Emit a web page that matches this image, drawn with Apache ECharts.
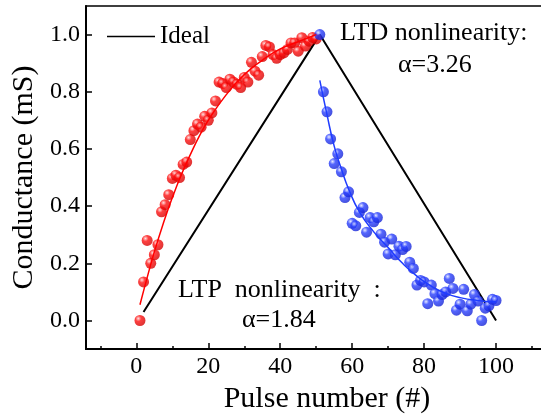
<!DOCTYPE html>
<html>
<head>
<meta charset="utf-8">
<script src="https://cdn.jsdelivr.net/npm/echarts@6/dist/echarts.min.js"></script>
<style>
  html, body { margin: 0; padding: 0; background: #fff; overflow: hidden; }
  /* the plot frame runs past the right edge of the window, as in the figure */
  #chart { width: 600px; height: 419px; }
</style>
</head>
<body>
<div id="chart"></div>
<script>
  // LTP: pulses 1..50, LTD: pulses 51..100 (conductance in mS)
  var ltpValues = [0.00, 0.135, 0.28, 0.20, 0.23, 0.265, 0.38, 0.405, 0.44, 0.497,
                   0.508, 0.50, 0.546, 0.554, 0.633, 0.664, 0.687, 0.676, 0.714, 0.70,
                   0.726, 0.768, 0.834, 0.829, 0.815, 0.844, 0.834, 0.826, 0.815, 0.85,
                   0.834, 0.903, 0.872, 0.858, 0.923, 0.962, 0.957, 0.93, 0.917, 0.93,
                   0.936, 0.948, 0.971, 0.971, 0.942, 0.989, 0.96, 0.977, 0.99, 0.985];
  var ltdValues = [1.00, 0.80, 0.73, 0.635, 0.549, 0.583, 0.52, 0.43, 0.45, 0.34,
                   0.331, 0.378, 0.395, 0.309, 0.36, 0.345, 0.36, 0.302, 0.274, 0.233,
                   0.285, 0.23, 0.26, 0.248, 0.259, 0.204, 0.182, 0.124, 0.14, 0.135,
                   0.059, 0.124, 0.094, 0.068, 0.091, 0.10, 0.147, 0.112, 0.036, 0.057,
                   0.109, 0.034, 0.057, 0.091, 0.068, 0.0, 0.043, 0.051, 0.074, 0.07];

  // fitted curves
  var ltpFitX = [1, 3, 5, 7.5, 10, 12.5, 15, 17.5, 20, 25, 30, 35, 40, 45, 50];
  var ltpFitY = [0.055, 0.15, 0.24, 0.34, 0.43, 0.51, 0.58, 0.645, 0.70, 0.79, 0.86, 0.91, 0.95, 0.975, 1.0];
  var ltdFitX = [51, 53, 55, 57, 59, 62, 66, 70, 74, 78, 82, 86, 90, 95, 100];
  var ltdFitY = [0.84, 0.72, 0.61, 0.53, 0.46, 0.38, 0.31, 0.255, 0.20, 0.155, 0.12, 0.095, 0.08, 0.07, 0.065];

  var idealX = [2, 51, 100];
  var idealY = [0.03, 1.0, 0.0];

  var xLabels = [0, 20, 40, 60, 80, 100, 120];
  var xMinor = [-10, 10, 30, 50, 70, 90, 110];
  var yLabels = [0.0, 0.2, 0.4, 0.6, 0.8, 1.0];

  var FONT = "'Times New Roman', 'Liberation Serif', serif";

  function pairs(xs, ys) {
    return xs.map(function (x, i) { return [x, ys[i]]; });
  }
  function sphere(c0, c1, c2) {
    return {
      type: 'radial', x: 0.35, y: 0.32, r: 0.75,
      colorStops: [{ offset: 0, color: c0 }, { offset: 0.35, color: c1 }, { offset: 1, color: c2 }]
    };
  }

  var ltpData = ltpValues.map(function (v, i) { return [i + 1, v]; });
  var ltdData = ltdValues.map(function (v, i) { return [i + 51, v]; });

  var chart = echarts.init(document.getElementById('chart'));
  chart.setOption({
    animation: false,
    textStyle: { fontFamily: FONT },
    grid: {
      left: 86, top: 6, right: 32, bottom: 67,
      show: true, borderColor: '#000', borderWidth: 1.5
    },
    legend: {
      left: 102, top: 19,
      data: [{ name: 'Ideal', icon: 'rect' }],
      itemWidth: 48, itemHeight: 1.6, itemGap: 5,
      textStyle: { fontFamily: FONT, fontSize: 25, color: '#000' }
    },
    xAxis: [{
      type: 'value', min: -14, max: 120,
      name: 'Pulse number (#)', nameLocation: 'middle', nameGap: 24,
      nameTextStyle: { fontFamily: FONT, fontSize: 30, color: '#000' },
      axisLine: { onZero: false, lineStyle: { color: '#000', width: 2 } },
      axisTick: { inside: true, length: 6, customValues: xLabels, lineStyle: { color: '#000', width: 1.5 } },
      axisLabel: { customValues: xLabels, margin: 6, fontFamily: FONT, fontSize: 24, color: '#000' },
      splitLine: { show: false }
    }, {
      type: 'value', min: -14, max: 120, position: 'bottom',
      axisLine: { show: false, onZero: false },
      axisTick: { inside: true, length: 3, customValues: xMinor, lineStyle: { color: '#000', width: 1.5 } },
      axisLabel: { show: false },
      splitLine: { show: false }
    }],
    yAxis: {
      type: 'value', min: -0.1, max: 1.1,
      name: 'Conductance (mS)', nameLocation: 'middle', nameGap: 43,
      nameTextStyle: { fontFamily: FONT, fontSize: 30, color: '#000' },
      axisLine: { onZero: false, lineStyle: { color: '#000', width: 2 } },
      axisTick: { inside: true, length: 6, customValues: yLabels, lineStyle: { color: '#000', width: 1.5 } },
      axisLabel: {
        customValues: yLabels, margin: 6, fontFamily: FONT, fontSize: 24, color: '#000',
        formatter: function (v) { return v.toFixed(1); }
      },
      splitLine: { show: false }
    },
    series: [{
      name: 'Ideal', type: 'line', data: pairs(idealX, idealY),
      symbol: 'none', lineStyle: { color: '#000', width: 2 }, itemStyle: { color: '#000' }, z: 2
    }, {
      name: 'LTP', type: 'scatter', data: ltpData, symbolSize: 11,
      itemStyle: { color: sphere('#ffd8d8', '#ff1010', '#d00000') }, z: 3
    }, {
      name: 'LTD', type: 'scatter', data: ltdData, symbolSize: 11,
      itemStyle: { color: sphere('#dfe3ff', '#2a40ff', '#1422d0') }, z: 3
    }, {
      name: 'LTP fit', type: 'line', data: pairs(ltpFitX, ltpFitY), smooth: true,
      symbol: 'none', lineStyle: { color: '#ff0000', width: 1.5 }, z: 4
    }, {
      name: 'LTD fit', type: 'line', data: pairs(ltdFitX, ltdFitY), smooth: true,
      symbol: 'none', lineStyle: { color: '#1f3cff', width: 1.5 }, z: 4
    }],
    graphic: [
      { type: 'text', left: 340, top: 20, style: { text: 'LTD nonlinearity:', font: '26px ' + FONT, fill: '#000' } },
      { type: 'text', left: 398, top: 52, style: { text: 'α=3.26', font: '26px ' + FONT, fill: '#000' } },
      { type: 'text', left: 178, top: 277, style: { text: 'LTP  nonlinearity  :', font: '26px ' + FONT, fill: '#000' } },
      { type: 'text', left: 242, top: 307, style: { text: 'α=1.84', font: '26px ' + FONT, fill: '#000' } }
    ]
  });
</script>
</body>
</html>
